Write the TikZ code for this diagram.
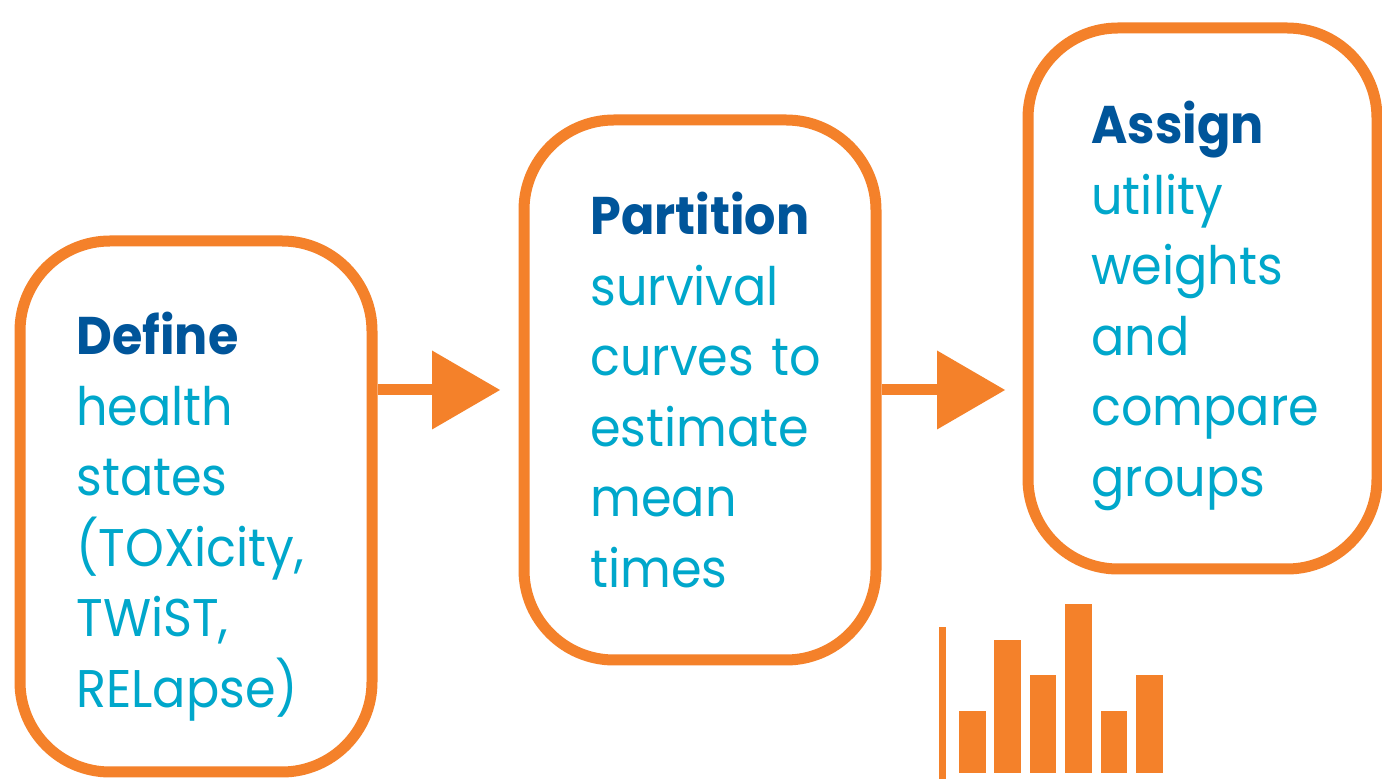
\documentclass[tikz,border=0pt]{standalone}
\usepackage{fontspec}
\setmainfont{Poppins}[FakeStretch=0.93]
\usepackage{tikz}
\usetikzlibrary{arrows.meta,positioning}
\usepackage{xcolor}
\definecolor{floworange}{HTML}{F4812A}
\definecolor{headblue}{HTML}{00559A}
\definecolor{textblue}{HTML}{00A7CB}

\begin{document}
\begin{tikzpicture}[
          x=0.5pt, y=-0.5pt,
          stepbox/.style={rectangle, draw=floworange, line width=5.5pt, rounded corners=45pt, minimum width=176pt},
          steptext/.style={anchor=base west, inner sep=0pt, text width=170pt, align=left, text=textblue,
                           font=\fontsize{26.5}{35.25}\selectfont},
          flow/.style={draw=floworange, line width=5.5pt, -{Triangle[length=34pt, width=39.5pt, line width=0pt]}},
          bar/.style={fill=floworange}
        ]
        \useasboundingbox[fill=white] (0,0) rectangle (1382,779);

        % Boxes
        \node[stepbox, minimum height=265.5pt] (define) at (196,506.5) {};
        \node[stepbox, minimum height=270pt] (partition) at (700,390) {};
        \node[stepbox, minimum width=174.5pt, minimum height=270.5pt] (assign) at (1202.5,298.5) {};

        % Texts
        \node[steptext] (definetext) at (76,355) {\textcolor{headblue}{\textbf{Define}}\\health\\states\\(TOXicity,\\TWiST,\\RELapse)};
        \node[steptext] (partitiontext) at (590,235) {\textcolor{headblue}{\textbf{Partition}}\\survival\\curves to\\estimate\\mean\\times};
        \node[steptext] (assigntext) at (1091,144) {\textcolor{headblue}{\textbf{Assign}}\\utility\\weights\\and\\compare\\groups};

        % Arrows
        \draw[flow, shorten >=9.25pt] (define.east |- partition.west) -- (partition.west);
        \draw[flow, shorten >=8.75pt] (partition.east) -- (assign.west |- partition.east);

        % Bar chart
        \fill[bar] (939,627) rectangle (946,779);
        \foreach \i/\top in {0/711, 1/640, 2/675, 3/604, 4/711, 5/675}
          \fill[bar] ({959+35.4*\i},773) rectangle ({985.5+35.4*\i},\top);

      \end{tikzpicture}
\end{document}
